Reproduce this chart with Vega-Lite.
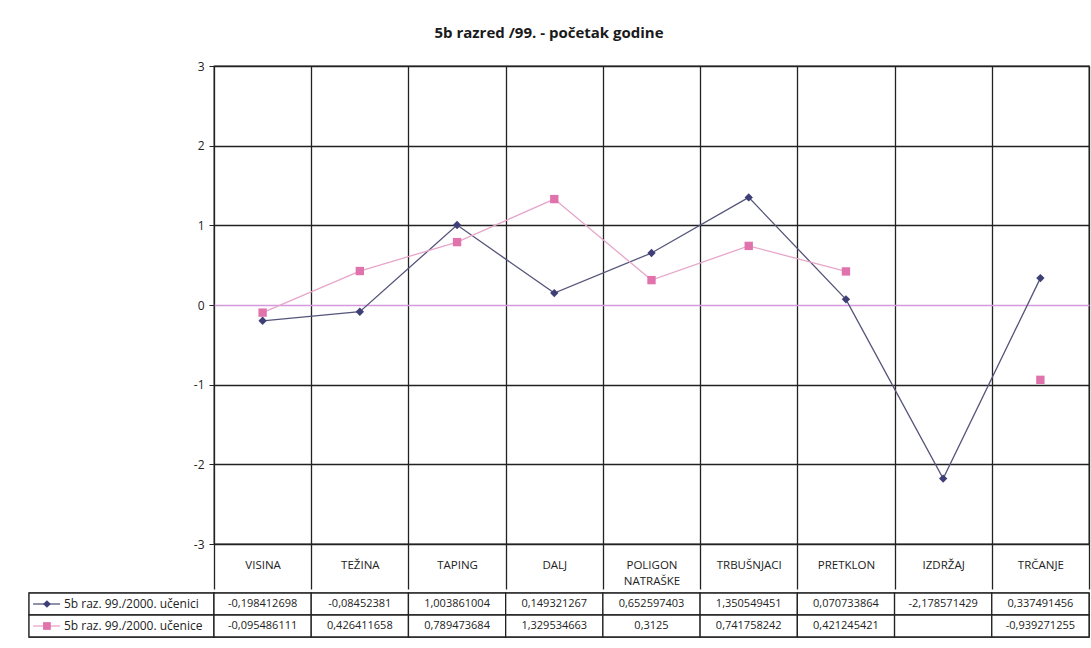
{
  "$schema": "https://vega.github.io/schema/vega-lite/v6.json",
  "padding": {"left": 27, "top": 26, "right": 3, "bottom": 5},
  "background": "white",
  "title": {"text": "5b razred /99. - početak godine", "fontSize": 15, "font": "Open Sans", "fontWeight": "bold", "anchor": "middle", "dx": -10, "offset": 18, "color": "#1a1a1a"},
  "data": {"values": [
    {"category": "VISINA", "series": "5b raz. 99./2000. učenici", "value": -0.198412698},
    {"category": "TEŽINA", "series": "5b raz. 99./2000. učenici", "value": -0.08452381},
    {"category": "TAPING", "series": "5b raz. 99./2000. učenici", "value": 1.003861004},
    {"category": "DALJ", "series": "5b raz. 99./2000. učenici", "value": 0.149321267},
    {"category": "POLIGON NATRAŠKE", "series": "5b raz. 99./2000. učenici", "value": 0.652597403},
    {"category": "TRBUŠNJACI", "series": "5b raz. 99./2000. učenici", "value": 1.350549451},
    {"category": "PRETKLON", "series": "5b raz. 99./2000. učenici", "value": 0.070733864},
    {"category": "IZDRŽAJ", "series": "5b raz. 99./2000. učenici", "value": -2.178571429},
    {"category": "TRČANJE", "series": "5b raz. 99./2000. učenici", "value": 0.337491456},
    {"category": "VISINA", "series": "5b raz. 99./2000. učenice", "value": -0.095486111},
    {"category": "TEŽINA", "series": "5b raz. 99./2000. učenice", "value": 0.426411658},
    {"category": "TAPING", "series": "5b raz. 99./2000. učenice", "value": 0.789473684},
    {"category": "DALJ", "series": "5b raz. 99./2000. učenice", "value": 1.329534663},
    {"category": "POLIGON NATRAŠKE", "series": "5b raz. 99./2000. učenice", "value": 0.3125},
    {"category": "TRBUŠNJACI", "series": "5b raz. 99./2000. učenice", "value": 0.741758242},
    {"category": "PRETKLON", "series": "5b raz. 99./2000. učenice", "value": 0.421245421},
    {"category": "IZDRŽAJ", "series": "5b raz. 99./2000. učenice", "value": null},
    {"category": "TRČANJE", "series": "5b raz. 99./2000. učenice", "value": -0.939271255}
  ]},
  "spacing": 0,
  "config": {
    "locale": {"number": {"decimal": ",", "thousands": ".", "grouping": [3], "currency": ["", ""], "minus": "-"}},
    "view": {"stroke": "#222", "strokeWidth": 1.3},
    "font": "Open Sans"
  },
  "vconcat": [
    {
      "spacing": 0,
      "bounds": "flush",
      "hconcat": [
        {
          "width": 185,
          "height": 478,
          "data": {"values": []},
          "mark": {"type": "point"},
          "view": {"stroke": null}
        },
        {
          "width": 875,
          "height": 478,
          "encoding": {
            "x": {"field": "category", "type": "nominal",
              "sort": ["VISINA", "TEŽINA", "TAPING", "DALJ", "POLIGON NATRAŠKE", "TRBUŠNJACI", "PRETKLON", "IZDRŽAJ", "TRČANJE"],
              "scale": {"paddingInner": 0, "paddingOuter": 0},
              "axis": {"orient": "bottom", "title": null, "tickBand": "extent", "grid": true, "gridColor": "#222", "gridWidth": 1.3, "gridOpacity": 1,
                "ticks": true, "tickSize": 45, "tickColor": "#222", "tickWidth": 1.3, "domain": false, "labelAngle": 0,
                "labelPadding": -24, "labelBaseline": "middle", "labelFontSize": 11.5, "labelColor": "#222", "labelFont": "Open Sans",
                "labelOverlap": false, "labelLineHeight": 16,
                "labelExpr": "datum.label == 'POLIGON NATRAŠKE' ? ['POLIGON', 'NATRAŠKE'] : datum.label",
                "minExtent": 45, "maxExtent": 45}},
            "y": {"field": "value", "type": "quantitative",
              "scale": {"domain": [-3, 3], "nice": false, "zero": false},
              "axis": {"title": null, "values": [-3, -2, -1, 0, 1, 2, 3], "format": "d", "grid": true,
                "gridColor": {"condition": {"test": "datum.value === 0", "value": "#d49bdc"}, "value": "#222"},
                "gridWidth": {"condition": {"test": "datum.value === 0", "value": 1.6}, "value": 1.3},
                "gridOpacity": 1, "tickSize": 5, "tickColor": "#222", "domain": false,
                "labelPadding": 5, "labelFontSize": 12, "labelColor": "#222"}}
          },
          "layer": [
            {"mark": {"type": "line", "strokeWidth": 1.3, "invalid": "break-paths-filter-domains"},
              "encoding": {"color": {"field": "series", "type": "nominal",
                "scale": {"domain": ["5b raz. 99./2000. učenici", "5b raz. 99./2000. učenice"], "range": ["#55557a", "#e6a6ca"]}, "legend": null}}},
            {"mark": {"type": "point", "filled": true, "opacity": 1, "size": 70},
              "encoding": {
                "fill": {"field": "series", "type": "nominal",
                  "scale": {"domain": ["5b raz. 99./2000. učenici", "5b raz. 99./2000. učenice"], "range": ["#3f3f78", "#e072ac"]}, "legend": null},
                "shape": {"field": "series", "type": "nominal",
                  "scale": {"domain": ["5b raz. 99./2000. učenici", "5b raz. 99./2000. učenice"], "range": ["diamond", "square"]}, "legend": null}}}
          ]
        }
      ]
    },
    {
      "spacing": 0,
      "bounds": "flush",
      "hconcat": [
        {
          "width": 185,
          "height": 44,
          "transform": [{"filter": "datum.category == 'VISINA'"}],
          "encoding": {
            "y": {"field": "series", "type": "nominal", "sort": ["5b raz. 99./2000. učenici", "5b raz. 99./2000. učenice"],
              "scale": {"paddingInner": 0, "paddingOuter": 0}, "axis": null}
          },
          "layer": [
            {"mark": {"type": "rect", "fill": "white", "stroke": "#222", "strokeWidth": 1.3}},
            {"mark": {"type": "rule", "strokeWidth": 1.3},
              "encoding": {
                "x": {"datum": 0.022, "type": "quantitative", "scale": {"domain": [0, 1], "nice": false, "zero": false}, "axis": null},
                "x2": {"datum": 0.168},
                "color": {"field": "series", "type": "nominal",
                  "scale": {"domain": ["5b raz. 99./2000. učenici", "5b raz. 99./2000. učenice"], "range": ["#55557a", "#e6a6ca"]}, "legend": null}}},
            {"mark": {"type": "point", "filled": true, "opacity": 1, "size": 60},
              "encoding": {
                "x": {"datum": 0.097, "type": "quantitative"},
                "fill": {"field": "series", "type": "nominal",
                  "scale": {"domain": ["5b raz. 99./2000. učenici", "5b raz. 99./2000. učenice"], "range": ["#3f3f78", "#e072ac"]}, "legend": null},
                "shape": {"field": "series", "type": "nominal",
                  "scale": {"domain": ["5b raz. 99./2000. učenici", "5b raz. 99./2000. učenice"], "range": ["diamond", "square"]}, "legend": null}}},
            {"mark": {"type": "text", "align": "left", "baseline": "middle", "fontSize": 12, "color": "#222"},
              "encoding": {
                "x": {"datum": 0.189, "type": "quantitative"},
                "text": {"field": "series", "type": "nominal"}}}
          ]
        },
        {
          "width": 875,
          "height": 44,
          "encoding": {
            "x": {"field": "category", "type": "nominal",
              "sort": ["VISINA", "TEŽINA", "TAPING", "DALJ", "POLIGON NATRAŠKE", "TRBUŠNJACI", "PRETKLON", "IZDRŽAJ", "TRČANJE"],
              "scale": {"paddingInner": 0, "paddingOuter": 0}, "axis": null},
            "y": {"field": "series", "type": "nominal", "sort": ["5b raz. 99./2000. učenici", "5b raz. 99./2000. učenice"],
              "scale": {"paddingInner": 0, "paddingOuter": 0}, "axis": null}
          },
          "layer": [
            {"mark": {"type": "rect", "fill": "white", "stroke": "#222", "strokeWidth": 1.3}},
            {"transform": [{"filter": "isValid(datum.value)"}],
              "mark": {"type": "text", "fontSize": 11, "color": "#222", "baseline": "middle"},
              "encoding": {"text": {"field": "value", "type": "quantitative", "format": ".9~f"}}}
          ]
        }
      ]
    }
  ]
}
